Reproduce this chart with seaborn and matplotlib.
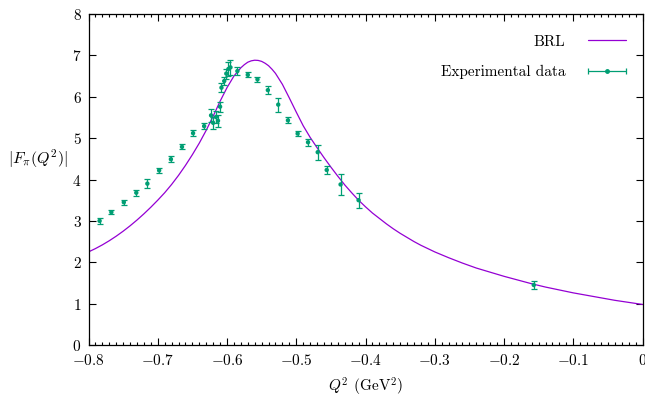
import numpy as np
import pandas as pd
import matplotlib
matplotlib.use("Agg")
import matplotlib.pyplot as plt
import seaborn as sns
from matplotlib.ticker import MultipleLocator, FixedLocator
from matplotlib.legend_handler import HandlerErrorbar

# ---------------- data ----------------
curve_q2 = [-0.80, -0.79, -0.78, -0.77, -0.76, -0.75, -0.74, -0.73, -0.72, -0.71,
            -0.70, -0.69, -0.68, -0.67, -0.66, -0.65, -0.64, -0.63, -0.62, -0.61,
            -0.60, -0.59, -0.58, -0.575, -0.57, -0.565, -0.56, -0.555, -0.55, -0.545,
            -0.54, -0.535, -0.53, -0.52, -0.51,
            -0.50, -0.49, -0.48, -0.47, -0.46, -0.45, -0.44, -0.43, -0.42, -0.41,
            -0.40, -0.39, -0.38, -0.37, -0.36, -0.35, -0.34, -0.33, -0.32, -0.31,
            -0.30, -0.28, -0.26, -0.24, -0.22, -0.20, -0.18, -0.16, -0.14, -0.12,
            -0.10, -0.08, -0.06, -0.04, -0.02, 0.00]
curve_brl = [2.25, 2.33, 2.42, 2.52, 2.63, 2.75, 2.88, 3.02, 3.17, 3.33,
             3.50, 3.68, 3.88, 4.10, 4.34, 4.60, 4.88, 5.19, 5.53, 5.89,
             6.22, 6.50, 6.70, 6.775, 6.835, 6.868, 6.883, 6.878, 6.855, 6.81,
             6.75, 6.665, 6.565, 6.30, 5.97,
             5.63, 5.30, 5.02, 4.77, 4.53, 4.30, 4.08, 3.87, 3.68, 3.50,
             3.34, 3.19, 3.06, 2.93, 2.81, 2.70, 2.60, 2.50, 2.41, 2.33,
             2.25, 2.11, 1.98, 1.86, 1.76, 1.66, 1.57, 1.48, 1.40, 1.33,
             1.26, 1.20, 1.14, 1.08, 1.03, 0.98]

exp_q2 = [-0.784, -0.767, -0.749, -0.731, -0.715, -0.698, -0.681, -0.665, -0.649, -0.633,
          -0.623, -0.620, -0.616, -0.613, -0.610, -0.608, -0.604, -0.601, -0.598, -0.595,
          -0.585, -0.570, -0.556, -0.541, -0.526, -0.512, -0.498, -0.483, -0.469, -0.456,
          -0.436, -0.410, -0.157]
exp_f = [3.00, 3.21, 3.45, 3.68, 3.90, 4.22, 4.49, 4.79, 5.12, 5.29,
         5.55, 5.37, 5.51, 5.42, 5.76, 6.22, 6.38, 6.56, 6.67, 6.71,
         6.62, 6.53, 6.42, 6.16, 5.81, 5.43, 5.11, 4.90, 4.66, 4.23,
         3.88, 3.50, 1.45]
exp_err = [0.07, 0.05, 0.06, 0.07, 0.11, 0.06, 0.07, 0.06, 0.07, 0.07,
           0.16, 0.15, 0.15, 0.15, 0.12, 0.11, 0.10, 0.12, 0.17, 0.19,
           0.10, 0.06, 0.06, 0.09, 0.17, 0.07, 0.07, 0.09, 0.18, 0.10,
           0.25, 0.18, 0.09]

x_ticks = [-0.8, -0.7, -0.6, -0.5, -0.4, -0.3, -0.2, -0.1, 0.0]
x_tick_labels = [r"$-0.8$", r"$-0.7$", r"$-0.6$", r"$-0.5$", r"$-0.4$",
                 r"$-0.3$", r"$-0.2$", r"$-0.1$", r"$0$"]
y_ticks = [0, 1, 2, 3, 4, 5, 6, 7, 8]
y_tick_labels = [r"$%d$" % v for v in y_ticks]

# ---------------- style ----------------
sns.set_theme(style="ticks")
plt.rcParams["font.family"] = ["cmr10", "DejaVu Serif"]
plt.rcParams["mathtext.fontset"] = "cm"
plt.rcParams["axes.unicode_minus"] = False
plt.rcParams["axes.formatter.use_mathtext"] = True

GREEN = "#009e73"
PURPLE = "#9400d3"
FS = 11

fig = plt.figure(figsize=(6.45, 3.99), dpi=100)
ax = fig.add_axes([88.5 / 645, 1 - 345 / 399, (642.5 - 88.5) / 645, (345 - 14) / 399])

curve_df = pd.DataFrame({"Q2": curve_q2, "F": curve_brl})
exp_df = pd.DataFrame({"Q2": exp_q2, "F": exp_f, "err": exp_err})

sns.lineplot(data=curve_df, x="Q2", y="F", ax=ax, color=PURPLE, lw=0.9,
             sort=False, label="BRL", legend=False, zorder=2)

ax.errorbar(exp_df["Q2"], exp_df["F"], yerr=exp_df["err"], fmt="none",
            ecolor=GREEN, elinewidth=0.9, capsize=2.5, capthick=0.9, zorder=3)
sns.scatterplot(data=exp_df, x="Q2", y="F", ax=ax, color=GREEN, s=10,
                edgecolor="none", legend=False, zorder=4)

# legend handle for experimental data (horizontal errorbar sample)
dummy = ax.errorbar([np.nan], [np.nan], xerr=[1.0], fmt="o", ms=2.5, color=GREEN,
                    ecolor=GREEN, elinewidth=0.9, capsize=2.5, capthick=0.9,
                    label="Experimental data")

ax.set_xlim(-0.8, 0.0)
ax.set_ylim(0, 8)
ax.xaxis.set_major_locator(FixedLocator(x_ticks))
ax.set_xticklabels(x_tick_labels)
ax.xaxis.set_minor_locator(MultipleLocator(0.01))
ax.yaxis.set_major_locator(FixedLocator(y_ticks))
ax.set_yticklabels(y_tick_labels)

ax.tick_params(which="both", direction="in", top=True, right=True,
               color="black", width=0.8, labelsize=FS, labelcolor="black")
ax.tick_params(which="major", length=5)
ax.tick_params(which="minor", length=2.5)
ax.tick_params(axis="x", pad=6)
ax.tick_params(axis="y", pad=5)
for sp in ax.spines.values():
    sp.set_visible(True)
    sp.set_color("black")
    sp.set_linewidth(0.9)

ax.set_xlabel(r"$Q^2$ (GeV$^2$)", fontsize=FS, color="black", labelpad=5.5)
ax.set_ylabel("")
fig.text(8 / 645, 1 - 159 / 399, r"$|F_\pi(Q^2)|$", fontsize=11.5,
         ha="left", va="center", color="black")

handles, labels = ax.get_legend_handles_labels()
leg = ax.legend(handles=handles, labels=labels, loc="upper right",
                bbox_to_anchor=(0.982, 0.955), frameon=False, markerfirst=False,
                fontsize=FS, handlelength=2.5, handletextpad=1.5,
                labelspacing=1.05, borderaxespad=0,
                handler_map={type(dummy): HandlerErrorbar(xerr_size=1.25)})
for t in leg.get_texts():
    t.set_color("black")

fig.savefig("out.png", dpi=100)
